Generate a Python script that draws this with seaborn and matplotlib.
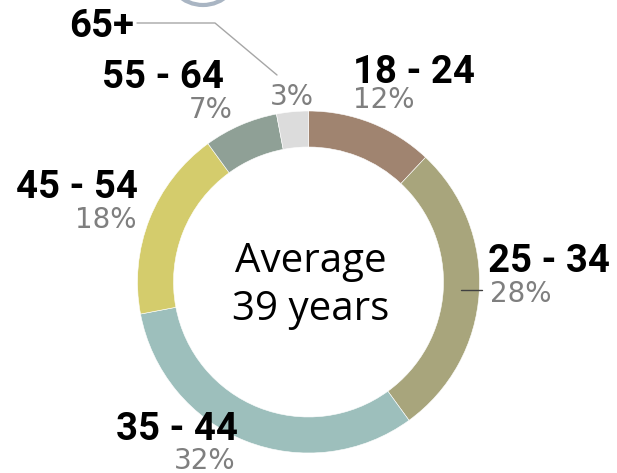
import matplotlib
matplotlib.use("Agg")
import matplotlib.pyplot as plt
import seaborn as sns

sns.set_style("white")

# data
groups = ['18 - 24', '25 - 34', '35 - 44', '45 - 54', '55 - 64', '65+']
shares = [12, 28, 32, 18, 7, 3]
colors = sns.color_palette(['#a08470', '#a8a57c', '#9dbfbc', '#d4cc6c', '#8fa096', '#dcdcdc'])
center_text = ['Average', '39 years']

fig = plt.figure(figsize=(6.17, 4.73), dpi=100)
ax = fig.add_axes([0, 0, 1, 1])

# donut, y axis inverted later so startangle -90 is the top and it runs clockwise
ax.pie(shares, colors=colors, startangle=-90, counterclock=True,
       radius=171, center=(308.5, 282),
       wedgeprops=dict(width=36, edgecolor='white', linewidth=0.4))

ax.set_xlim(0, 617)
ax.set_ylim(473, 0)
ax.set_aspect('equal')
ax.axis('off')

# label positions (pixels): name (x, baseline, ha), percent (x, baseline, ha)
lab_pos = {
    '18 - 24': ((353, 83, 'left'), (353, 108, 'left')),
    '25 - 34': ((488, 272, 'left'), (490, 302, 'left')),
    '35 - 44': ((238, 440, 'right'), (235, 469, 'right')),
    '45 - 54': ((138, 198, 'right'), (137, 228, 'right')),
    '55 - 64': ((224, 88, 'right'), (233, 118, 'right')),
    '65+': ((134, 37, 'right'), (270, 105, 'left')),
}
for g, s in zip(groups, shares):
    (x1, y1, h1), (x2, y2, h2) = lab_pos[g]
    ax.text(x1, y1, g, ha=h1, va='baseline', fontsize=27.5,
            fontweight='bold', family='Roboto', color='black')
    ax.text(x2, y2, f'{s}%', ha=h2, va='baseline', fontsize=20,
            family='DejaVu Sans', color='#7f7f7f')

# leader lines
ax.plot([137, 215, 277], [23, 23, 75], color='#a6a6a6', lw=1)
ax.plot([461, 482], [290, 290], color='#404040', lw=1)

# centre text
ax.text(311, 272, center_text[0], ha='center', va='baseline',
        fontsize=29, family='Open Sans', color='black')
ax.text(311, 320, center_text[1], ha='center', va='baseline',
        fontsize=29, family='Open Sans', color='black')

# cut-off icon ring at the top
ax.add_patch(plt.Circle((203, -32), 37, fill=False, edgecolor='#a9b5c3', lw=3))

fig.savefig('out.png', dpi=100)
